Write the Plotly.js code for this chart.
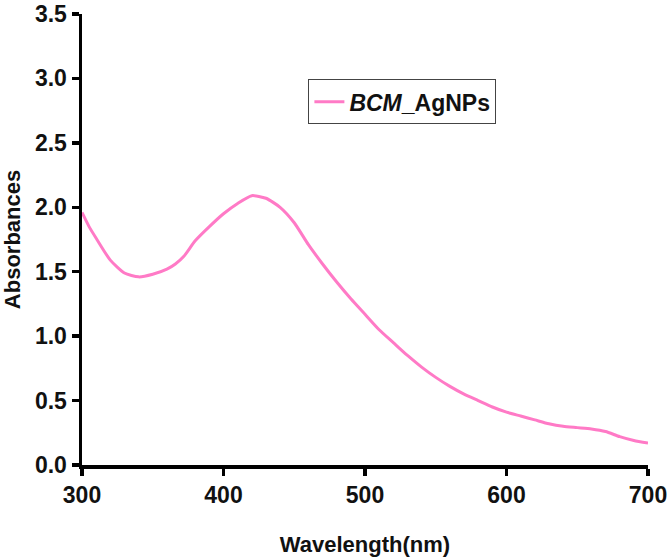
<!DOCTYPE html>
<html>
<head>
<meta charset="utf-8">
<script src="https://cdn.plot.ly/plotly-3.0.1.min.js"></script>
<style>
  html, body { margin: 0; padding: 0; background: #fff; }
  #chart { width: 669px; height: 557px; }
</style>
</head>
<body>
<div id="chart"></div>
<script>
// UV-Vis spectrum, values
const wavelength = [300, 305, 310, 320, 330, 340, 350, 360, 366, 372, 380, 390, 400, 410, 420, 430, 440,
  450, 460, 470, 480, 490, 500, 510, 520, 530, 540, 550, 560, 570, 580, 590, 600,
  610, 620, 630, 640, 650, 660, 670, 680, 690, 700];
const absorbance = [1.96, 1.85, 1.76, 1.59, 1.49, 1.46, 1.48, 1.52, 1.56, 1.62, 1.74, 1.85, 1.95, 2.03, 2.09, 2.07, 2.00,
  1.88, 1.71, 1.56, 1.42, 1.29, 1.17, 1.05, 0.95, 0.85, 0.76, 0.68, 0.61, 0.55, 0.50, 0.45, 0.41,
  0.38, 0.35, 0.32, 0.30, 0.29, 0.28, 0.26, 0.22, 0.19, 0.17];

const xTicks = [300, 400, 500, 600, 700];
const yTicks = [0, 0.5, 1.0, 1.5, 2.0, 2.5, 3.0, 3.5];

const font = { family: 'Liberation Sans, Arial, sans-serif', color: '#111' };

const trace = {
  x: wavelength,
  y: absorbance,
  type: 'scatter',
  mode: 'lines',
  name: '<b><i>BCM</i>_AgNPs</b>',
  line: { color: '#ff7ac6', width: 3, shape: 'spline', smoothing: 0.6 }
};

const layout = {
  width: 669,
  height: 557,
  margin: { l: 82, r: 21, t: 14, b: 92 },
  paper_bgcolor: '#fff',
  plot_bgcolor: '#fff',
  font: font,
  showlegend: true,
  legend: {
    x: 0.40, y: 0.855, xanchor: 'left', yanchor: 'top',
    bgcolor: '#fff', bordercolor: '#444', borderwidth: 1,
    font: { family: font.family, size: 23, color: '#111' },
    itemwidth: 30
  },
  xaxis: {
    range: [300, 700],
    tickvals: xTicks,
    ticktext: xTicks.map(String),
    showgrid: false, zeroline: false,
    showline: true, linecolor: '#000', linewidth: 3.5,
    ticks: 'outside', ticklen: 7, tickwidth: 3.5, tickcolor: '#000',
    ticklabeloverflow: 'allow',
    tickfont: { family: font.family, size: 23, color: '#111', weight: 'bold' },
    title: { text: '<b>Wavelength(nm)</b>', font: { size: 22, color: '#111' }, standoff: 39 }
  },
  yaxis: {
    range: [0, 3.5],
    tickvals: yTicks,
    ticktext: yTicks.map(v => v.toFixed(1)),
    showgrid: false, zeroline: false,
    showline: true, linecolor: '#000', linewidth: 3.5,
    ticks: 'outside', ticklen: 7, tickwidth: 3.5, tickcolor: '#000',
    ticklabeloverflow: 'allow',
    tickfont: { family: font.family, size: 23, color: '#111', weight: 'bold' },
    title: { text: '<b>Absorbances</b>', font: { size: 22, color: '#111' }, standoff: 14 }
  }
};

Plotly.newPlot('chart', [trace], layout, { displayModeBar: false, staticPlot: true });
</script>
</body>
</html>
